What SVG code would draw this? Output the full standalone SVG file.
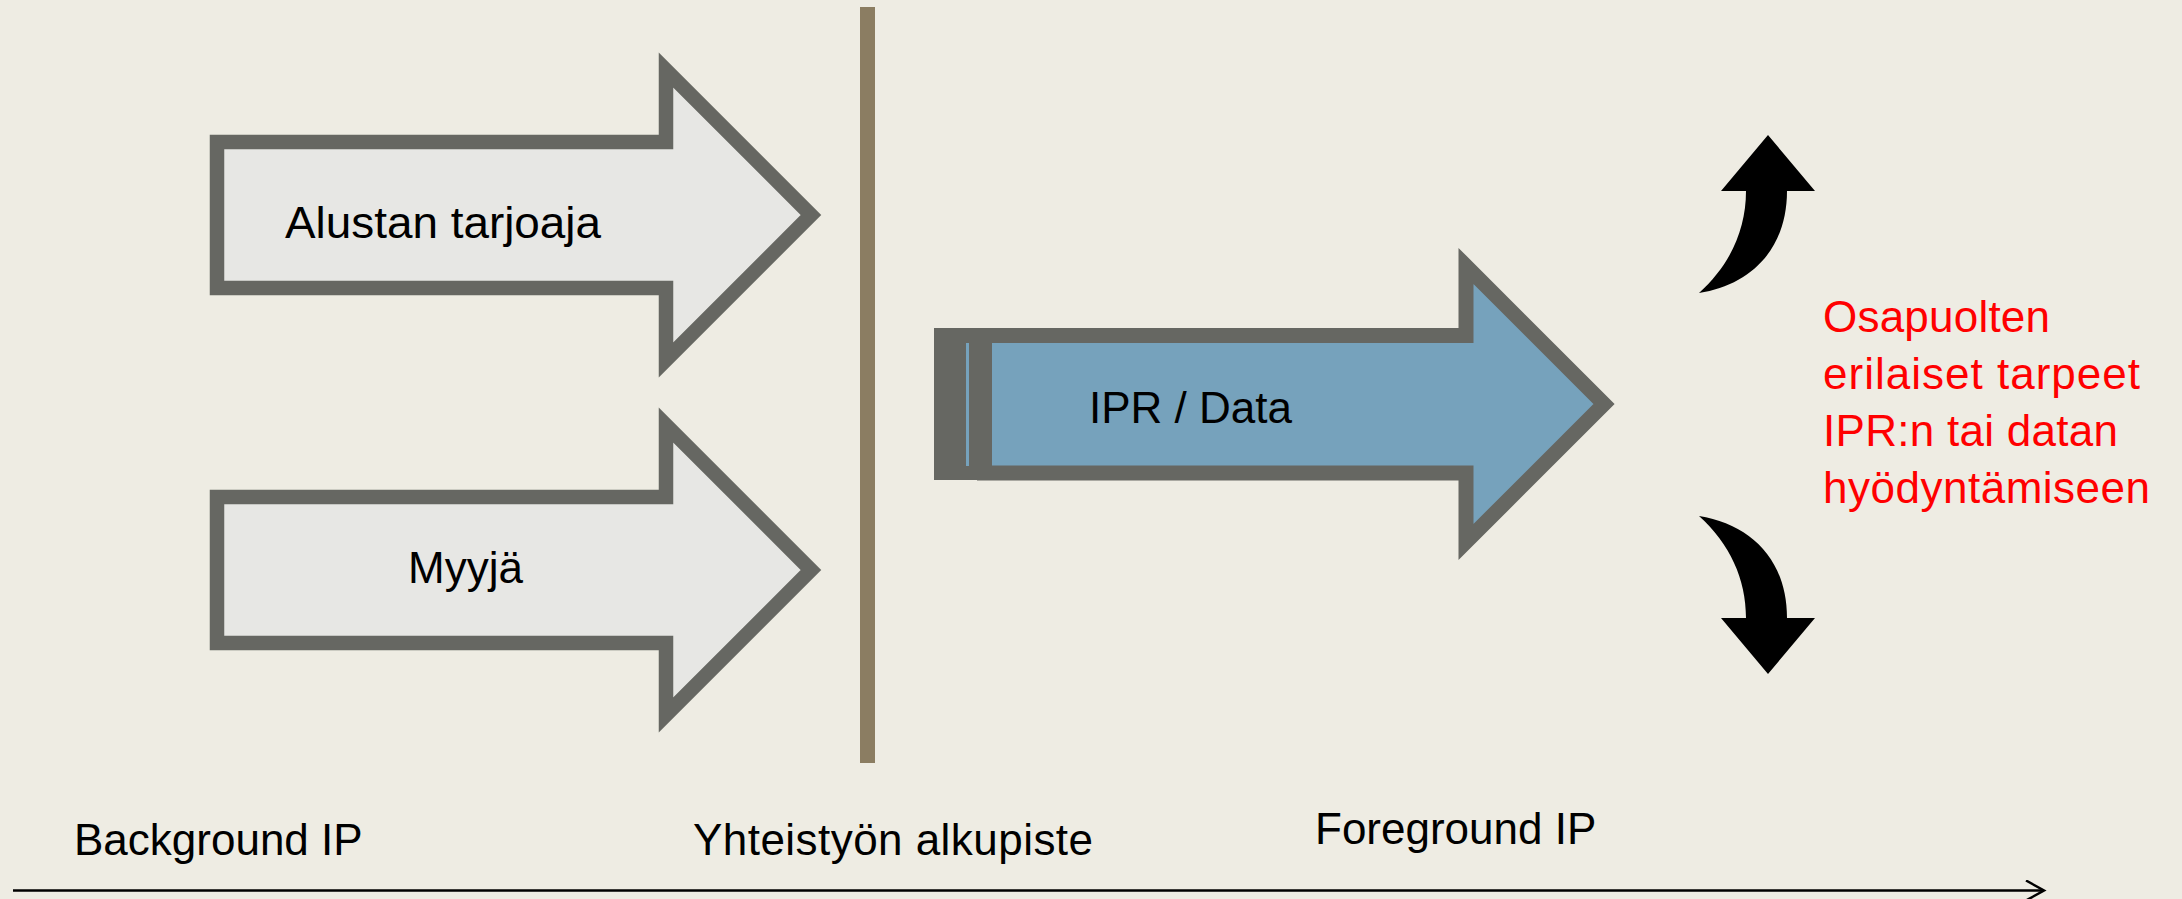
<svg xmlns="http://www.w3.org/2000/svg" width="2182" height="899" viewBox="0 0 2182 899">
<style>
.bg{fill:#EEECE3}
.gray{fill:#E7E7E4;stroke:#666762;stroke-width:14.5;stroke-linejoin:miter;stroke-miterlimit:10}
.blue{fill:#76A2BC;stroke:#666762;stroke-width:15;stroke-linejoin:miter;stroke-miterlimit:10}
.lbl{font-family:"Liberation Sans",Arial,sans-serif;font-size:44px;fill:#000}
.red{font-family:"Liberation Sans",Arial,sans-serif;font-size:44px;fill:#FF0000}
.curve{fill:#000}
</style>
<defs>
<marker id="open" markerWidth="22" markerHeight="22" refX="19" refY="11" orient="auto" markerUnits="userSpaceOnUse">
<path d="M1,1 L19,11 L1,21" fill="none" stroke="#000" stroke-width="2.5"/>
</marker>
</defs>
<rect class="bg" x="0" y="0" width="2182" height="899"/>
<g id="divider">
<rect x="860" y="7" width="15" height="756" fill="#8B7D62"/>
</g>
<g id="node-alustan">
<path class="gray" d="M217,142 H666 V70 L811,215 L666,360 V288 H217 Z"/>
<text class="lbl" x="285" y="238" textLength="316" lengthAdjust="spacingAndGlyphs">Alustan tarjoaja</text>
</g>
<g id="node-myyja">
<path class="gray" d="M217,497 H666 V425 L811,570 L666,715 V643 H217 Z"/>
<text class="lbl" x="408" y="583">Myyjä</text>
</g>
<g id="node-ipr">
<rect x="934" y="328" width="58" height="152" fill="#666762"/>
<rect x="966" y="343" width="3" height="123" fill="#76A2BC"/>
<path class="blue" d="M984.5,335.5 H1466 V266 L1604,404 L1466,542 V473 H984.5 Z"/>
<text class="lbl" x="1089" y="423">IPR / Data</text>
</g>
<g id="node-needs">
<path class="curve" d="M1768,135 L1815,191 L1787,191 C1787,250 1750,285 1699,293 C1730,265 1746,230 1746,191 L1721,191 Z"/>
<path class="curve" transform="matrix(1,0,0,-1,0,809)" d="M1768,135 L1815,191 L1787,191 C1787,250 1750,285 1699,293 C1730,265 1746,230 1746,191 L1721,191 Z"/>
<text class="red" x="1823" y="332" textLength="227" lengthAdjust="spacing">Osapuolten</text>
<text class="red" x="1823" y="389" textLength="317" lengthAdjust="spacing">erilaiset tarpeet</text>
<text class="red" x="1823" y="446" textLength="295" lengthAdjust="spacing">IPR:n tai datan</text>
<text class="red" x="1823" y="503" textLength="327" lengthAdjust="spacing">hyödyntämiseen</text>
</g>
<g id="timeline-labels">
<text class="lbl" x="74" y="855">Background IP</text>
<text class="lbl" x="693" y="855" textLength="400" lengthAdjust="spacing">Yhteistyön alkupiste</text>
<text class="lbl" x="1315" y="844">Foreground IP</text>
</g>
<g id="connectors">
<line x1="13" y1="890.5" x2="2044" y2="890.5" stroke="#000" stroke-width="2.5" marker-end="url(#open)"/>
</g>
</svg>
